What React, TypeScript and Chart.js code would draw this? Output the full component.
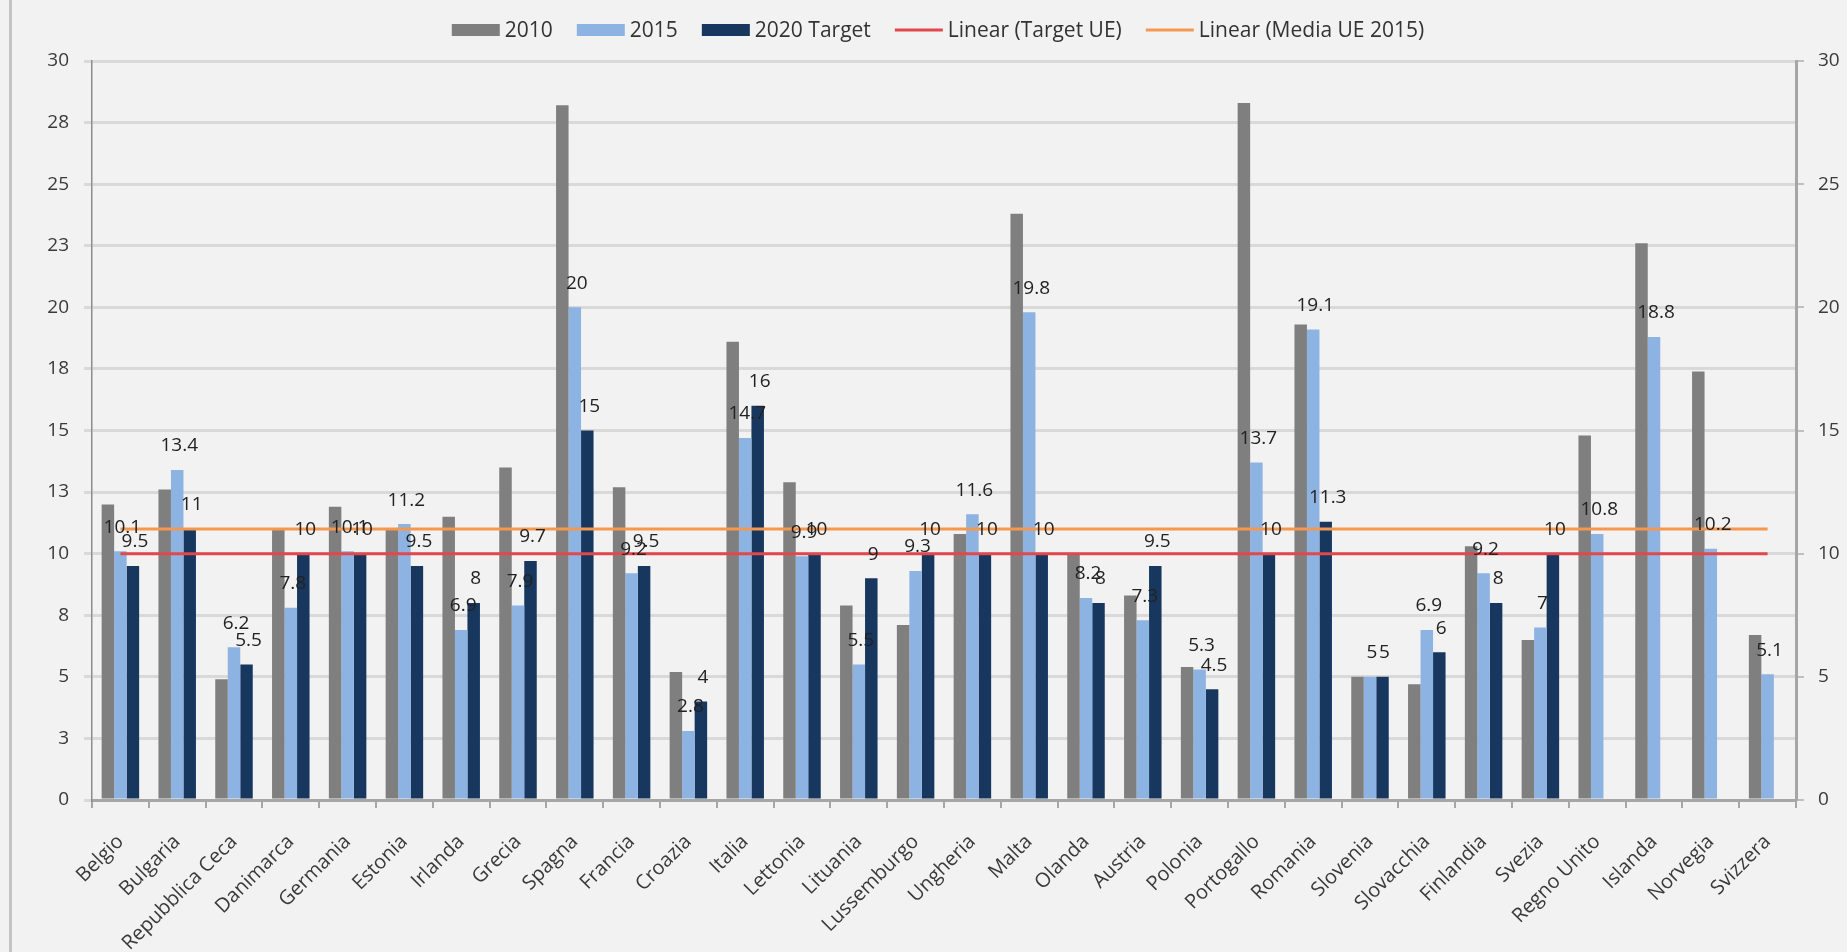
import React, { useEffect, useRef } from "react";
import { Chart, registerables } from "chart.js";

Chart.register(...registerables);

const categories = [
  "Belgio", "Bulgaria", "Repubblica Ceca", "Danimarca", "Germania", "Estonia",
  "Irlanda", "Grecia", "Spagna", "Francia", "Croazia", "Italia", "Lettonia",
  "Lituania", "Lussemburgo", "Ungheria", "Malta", "Olanda", "Austria", "Polonia",
  "Portogallo", "Romania", "Slovenia", "Slovacchia", "Finlandia", "Svezia",
  "Regno Unito", "Islanda", "Norvegia", "Svizzera",
];

const values2010 = [
  12.0, 12.6, 4.9, 11.0, 11.9, 11.0, 11.5, 13.5, 28.2, 12.7, 5.2, 18.6, 12.9,
  7.9, 7.1, 10.8, 23.8, 10.0, 8.3, 5.4, 28.3, 19.3, 5.0, 4.7, 10.3, 6.5, 14.8,
  22.6, 17.4, 6.7,
];

const values2015 = [
  10.1, 13.4, 6.2, 7.8, 10.1, 11.2, 6.9, 7.9, 20, 9.2, 2.8, 14.7, 9.9, 5.5,
  9.3, 11.6, 19.8, 8.2, 7.3, 5.3, 13.7, 19.1, 5, 6.9, 9.2, 7, 10.8, 18.8, 10.2,
  5.1,
];

const values2020Target = [
  9.5, 11, 5.5, 10, 10, 9.5, 8, 9.7, 15, 9.5, 4, 16, 10, 9, 10, 10, 10, 8, 9.5,
  4.5, 10, 11.3, 5, 6, 8, 10, null, null, null, null,
];

const targetUE = 10;
const mediaUE2015 = 11.0;

const leftTicks = { min: 0, max: 30, step: 2.5 };
const rightTicks = { min: 0, max: 30, step: 5 };

const seriesNames = ["2010", "2015", "2020 Target", "Linear (Target UE)", "Linear (Media UE 2015)"];

const COLORS = {
  bg: "#f2f2f2",
  c2010: "#7f7f7f",
  c2015: "#8db3e2",
  c2020: "#17375e",
  red: "#e2474d",
  orange: "#f5984f",
  grid: "#d9d9d9",
  text: "#333333",
};

const FONT = "'Open Sans', 'DejaVu Sans', sans-serif";

const backgroundPlugin = {
  id: "bgPlugin",
  beforeDraw(chart: any) {
    const { ctx, width, height } = chart;
    ctx.save();
    ctx.fillStyle = COLORS.bg;
    ctx.fillRect(0, 0, width, height);
    ctx.fillStyle = "#c4c4c4";
    ctx.fillRect(9, 0, 3, height);
    ctx.restore();
  },
};

const labelsPlugin = {
  id: "valueLabels",
  afterDatasetsDraw(chart: any) {
    const { ctx } = chart;
    ctx.save();
    ctx.font = `19px ${FONT}`;
    ctx.fillStyle = "#222222";
    ctx.textAlign = "center";
    ctx.textBaseline = "middle";
    chart.data.datasets.forEach((ds: any, di: number) => {
      if (!ds.showValues) return;
      const meta = chart.getDatasetMeta(di);
      meta.data.forEach((el: any, i: number) => {
        const v = ds.data[i];
        if (v === null || v === undefined) return;
        ctx.fillText(String(v), el.x + 2, el.y - 24);
      });
    });
    ctx.restore();
  },
};

const legendPlugin = {
  id: "customLegend",
  afterDraw(chart: any) {
    const { ctx } = chart;
    const items = [
      { text: seriesNames[0], color: COLORS.c2010, kind: "box" },
      { text: seriesNames[1], color: COLORS.c2015, kind: "box" },
      { text: seriesNames[2], color: COLORS.c2020, kind: "box" },
      { text: seriesNames[3], color: COLORS.red, kind: "line" },
      { text: seriesNames[4], color: COLORS.orange, kind: "line" },
    ];
    ctx.save();
    ctx.font = `21px ${FONT}`;
    const symW = 48;
    const gap = 5;
    const spacing = 24;
    const widths = items.map((it) => symW + gap + ctx.measureText(it.text).width);
    const total = widths.reduce((a, b) => a + b, 0) + spacing * (items.length - 1);
    let x = 938 - total / 2;
    const cy = 30;
    ctx.textBaseline = "middle";
    ctx.textAlign = "left";
    items.forEach((it, i) => {
      if (it.kind === "box") {
        ctx.fillStyle = it.color;
        ctx.fillRect(x, cy - 6, symW, 12);
      } else {
        ctx.strokeStyle = it.color;
        ctx.lineWidth = 3;
        ctx.beginPath();
        ctx.moveTo(x, cy);
        ctx.lineTo(x + symW, cy);
        ctx.stroke();
      }
      ctx.fillStyle = COLORS.text;
      ctx.fillText(it.text, x + symW + gap, cy + 1);
      x += widths[i] + spacing;
    });
    ctx.restore();
  },
};

export default function App() {
  const canvasRef = useRef<HTMLCanvasElement | null>(null);

  useEffect(() => {
    if (!canvasRef.current) return;
    const chart = new Chart(canvasRef.current, {
      type: "bar",
      data: {
        labels: categories,
        datasets: [
          {
            type: "line",
            label: seriesNames[3],
            data: categories.map(() => targetUE),
            borderColor: COLORS.red,
            borderWidth: 3,
            pointRadius: 0,
            fill: false,
            order: 0,
            yAxisID: "y",
          } as any,
          {
            type: "line",
            label: seriesNames[4],
            data: categories.map(() => mediaUE2015),
            borderColor: COLORS.orange,
            borderWidth: 3,
            pointRadius: 0,
            fill: false,
            order: 0,
            yAxisID: "y",
          } as any,
          {
            label: seriesNames[0],
            data: values2010,
            backgroundColor: COLORS.c2010,
            order: 1,
            yAxisID: "y",
          },
          {
            label: seriesNames[1],
            data: values2015,
            backgroundColor: COLORS.c2015,
            order: 1,
            yAxisID: "y",
            showValues: true,
          } as any,
          {
            label: seriesNames[2],
            data: values2020Target,
            backgroundColor: COLORS.c2020,
            order: 1,
            yAxisID: "y",
            showValues: true,
          } as any,
        ],
      },
      options: {
        responsive: false,
        animation: false,
        devicePixelRatio: 1,
        layout: { padding: { top: 61, left: 0, right: 0, bottom: 0 } },
        datasets: {
          bar: { categoryPercentage: 0.66, barPercentage: 1.0 },
        },
        plugins: {
          legend: { display: false },
          tooltip: { enabled: false },
        },
        scales: {
          x: {
            afterFit: (s: any) => {
              s.height = 152;
            },
            grid: {
              display: true,
              drawOnChartArea: false,
              drawTicks: true,
              tickLength: 8,
              color: "#a6a6a6",
              lineWidth: 2,
              offset: true,
            },
            border: { display: true, color: "#a6a6a6", width: 3 },
            ticks: {
              autoSkip: false,
              minRotation: 45,
              maxRotation: 45,
              padding: 22,
              color: "#3a3a3a",
              font: { family: FONT, size: 20 },
            },
          },
          y: {
            position: "left",
            min: leftTicks.min,
            max: leftTicks.max,
            afterFit: (s: any) => {
              s.width = 92;
            },
            grid: {
              color: COLORS.grid,
              lineWidth: 3,
              tickLength: 8,
            },
            border: { display: true, color: "#8c8c8c", width: 1.5 },
            ticks: {
              stepSize: leftTicks.step,
              padding: 15,
              color: "#3a3a3a",
              font: { family: FONT, size: 19 },
              callback: (v: any) => String(Math.round(Number(v))),
            },
          },
          y1: {
            position: "right",
            min: rightTicks.min,
            max: rightTicks.max,
            afterFit: (s: any) => {
              s.width = 51;
            },
            grid: {
              drawOnChartArea: false,
              drawTicks: true,
              tickLength: 8,
              color: "#bfbfbf",
              lineWidth: 2,
            },
            border: { display: true, color: "#a6a6a6", width: 3 },
            ticks: {
              stepSize: rightTicks.step,
              padding: 14,
              color: "#3a3a3a",
              font: { family: FONT, size: 19 },
            },
          },
        },
      },
      plugins: [backgroundPlugin, labelsPlugin, legendPlugin],
    });
    return () => chart.destroy();
  }, []);

  return (
    <div style={{ position: "fixed", left: 0, top: 0, width: 1847, height: 952, background: COLORS.bg }}>
      <canvas ref={canvasRef} width={1847} height={952} style={{ display: "block" }} />
    </div>
  );
}
